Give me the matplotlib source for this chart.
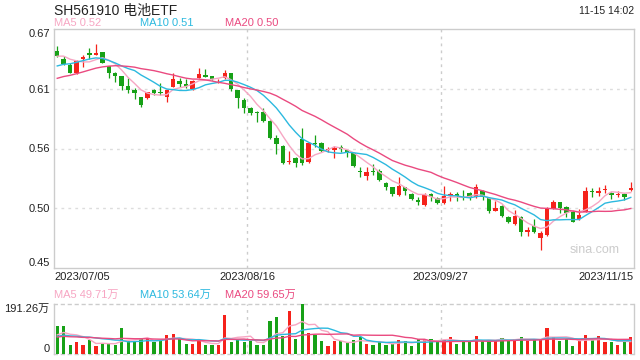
import numpy as np
import pandas as pd
from matplotlib import pyplot as plt

# daily candles, 2023/07/05 .. 2023/11/15 (90 trading days)
open_ = [0.6498, 0.6421, 0.6369, 0.6292, 0.6421, 0.6482, 0.6464, 0.6486, 0.6360, 0.6298,
         0.6268, 0.6176, 0.6139, 0.6072, 0.6065, 0.6139, 0.6124, 0.6078, 0.6169, 0.6224,
         0.6191, 0.6145, 0.6248, 0.6277, 0.6264, 0.6218, 0.6246, 0.6292, 0.6139, 0.6047,
         0.5976, 0.5933, 0.5933, 0.5857, 0.5700, 0.5624, 0.5476, 0.5516, 0.5688, 0.5479,
         0.5654, 0.5654, 0.5587, 0.5584, 0.5615, 0.5587, 0.5556, 0.5391, 0.5350, 0.5397,
         0.5394, 0.5286, 0.5249, 0.5173, 0.5243, 0.5182, 0.5127, 0.5081, 0.5182, 0.5148,
         0.5096, 0.5170, 0.5182, 0.5158, 0.5188, 0.5152, 0.5213, 0.5142, 0.5028, 0.5072,
         0.4968, 0.4906, 0.4974, 0.4835, 0.4887, 0.4774, 0.4805, 0.5044, 0.5106, 0.5059,
         0.5019, 0.4952, 0.5019, 0.5210, 0.5194, 0.5216, 0.5191, 0.5173, 0.5185, 0.5222]
close = [0.6452, 0.6381, 0.6298, 0.6406, 0.6445, 0.6458, 0.6482, 0.6390, 0.6292, 0.6270,
         0.6178, 0.6139, 0.6115, 0.5998, 0.6118, 0.6115, 0.6109, 0.6139, 0.6237, 0.6194,
         0.6176, 0.6224, 0.6288, 0.6261, 0.6240, 0.6222, 0.6292, 0.6145, 0.6062, 0.5970,
         0.5930, 0.5924, 0.5851, 0.5700, 0.5639, 0.5464, 0.5482, 0.5470, 0.5464, 0.5654,
         0.5642, 0.5581, 0.5596, 0.5608, 0.5595, 0.5562, 0.5440, 0.5383, 0.5387, 0.5388,
         0.5311, 0.5243, 0.5182, 0.5256, 0.5213, 0.5136, 0.5103, 0.5173, 0.5158, 0.5096,
         0.5164, 0.5182, 0.5164, 0.5142, 0.5142, 0.5249, 0.5152, 0.5028, 0.5053, 0.4980,
         0.4928, 0.4980, 0.4835, 0.4848, 0.4835, 0.4820, 0.5050, 0.5106, 0.5050, 0.5004,
         0.4928, 0.4989, 0.5210, 0.5197, 0.5207, 0.5225, 0.5170, 0.5185, 0.5155, 0.5234]
high = [0.6544, 0.6452, 0.6390, 0.6415, 0.6461, 0.6522, 0.6562, 0.6490, 0.6362, 0.6307,
        0.6270, 0.6246, 0.6154, 0.6075, 0.6124, 0.6145, 0.6200, 0.6140, 0.6298, 0.6246,
        0.6237, 0.6230, 0.6338, 0.6329, 0.6270, 0.6236, 0.6323, 0.6295, 0.6140, 0.6062,
        0.5985, 0.5942, 0.5973, 0.5860, 0.5724, 0.5633, 0.5580, 0.5518, 0.5786, 0.5663,
        0.5724, 0.5656, 0.5611, 0.5620, 0.5630, 0.5590, 0.5558, 0.5427, 0.5427, 0.5457,
        0.5409, 0.5295, 0.5250, 0.5335, 0.5249, 0.5194, 0.5152, 0.5188, 0.5188, 0.5158,
        0.5256, 0.5203, 0.5203, 0.5219, 0.5197, 0.5274, 0.5219, 0.5157, 0.5120, 0.5081,
        0.4980, 0.5034, 0.4980, 0.4881, 0.4949, 0.4836, 0.5059, 0.5128, 0.5112, 0.5071,
        0.5034, 0.5041, 0.5250, 0.5234, 0.5250, 0.5265, 0.5200, 0.5210, 0.5191, 0.5293]
low = [0.6445, 0.6369, 0.6292, 0.6290, 0.6353, 0.6421, 0.6461, 0.6384, 0.6246, 0.6215,
       0.6139, 0.6115, 0.6052, 0.5985, 0.6059, 0.6094, 0.6088, 0.6032, 0.6164, 0.6167,
       0.6155, 0.6139, 0.6245, 0.6255, 0.6233, 0.6199, 0.6237, 0.6133, 0.5970, 0.5924,
       0.5909, 0.5848, 0.5848, 0.5691, 0.5553, 0.5458, 0.5455, 0.5427, 0.5449, 0.5464,
       0.5611, 0.5572, 0.5572, 0.5510, 0.5570, 0.5525, 0.5433, 0.5335, 0.5311, 0.5356,
       0.5305, 0.5219, 0.5164, 0.5167, 0.5173, 0.5127, 0.5078, 0.5075, 0.5115, 0.5090,
       0.5090, 0.5115, 0.5115, 0.5124, 0.5124, 0.5143, 0.5127, 0.5004, 0.5025, 0.4974,
       0.4913, 0.4897, 0.4795, 0.4795, 0.4826, 0.4667, 0.4790, 0.5040, 0.5004, 0.4974,
       0.4919, 0.4943, 0.5013, 0.5157, 0.5164, 0.5191, 0.5139, 0.5155, 0.5124, 0.5213]
# volume, in 万
volume = [107.7, 107.7, 35.5, 46.9, 35.5, 54.5, 29.1, 39.3, 39.3, 35.5,
          100.0, 48.1, 48.1, 57.0, 60.8, 44.3, 48.1, 73.5, 76.0, 57.0,
          39.3, 39.3, 54.5, 32.9, 35.5, 35.5, 149.5, 44.3, 54.5, 44.3,
          48.1, 35.5, 35.5, 127.9, 140.6, 67.1, 164.7, 58.3, 191.26, 79.8,
          73.5, 50.7, 31.7, 48.1, 48.1, 41.8, 54.5, 63.3, 39.3, 35.5,
          44.3, 35.5, 39.3, 54.5, 50.7, 31.7, 57.0, 57.0, 58.3, 48.1,
          51.9, 63.3, 39.3, 48.1, 44.3, 69.7, 51.9, 51.9, 48.1, 62.0,
          54.5, 57.0, 65.9, 48.1, 54.5, 54.5, 101.3, 63.3, 50.7, 58.3,
          31.7, 50.7, 73.5, 51.9, 67.1, 44.3, 44.3, 35.5, 50.7, 63.3]
# closes / volumes of the 19 days before the window, only feed the moving averages
prior_close = [0.605, 0.608, 0.610, 0.612, 0.611, 0.614, 0.616, 0.615, 0.619, 0.622,
               0.623, 0.625, 0.627, 0.629, 0.631, 0.638, 0.644, 0.648, 0.6498]
prior_volume = [58, 66, 60, 70, 55, 64, 68, 59, 62, 68,
                55, 66, 58, 64, 62, 60, 70, 59, 68]

date_ticks = [-0.5, 29.5, 59.5, 89.5]
date_labels = ["2023/07/05", "2023/08/16", "2023/09/27", "2023/11/15"]

RED = '#f5221b'
GREEN = '#17a117'
MA_COLORS = {5: '#f7a6c3', 10: '#2cb9df', 20: '#ea4a80'}
CJK = ['Liberation Sans', 'Noto Sans CJK SC', 'DejaVu Sans']
plt.rcParams['font.family'] = CJK

n = len(close)
x = np.arange(n)
o = np.array(open_)
c = np.array(close)
up = c >= o
cols = np.where(up, RED, GREEN)

fig = plt.figure(figsize=(6.4, 3.6), dpi=100)
W, H = 640, 360
ax = fig.add_axes([54 / W, 1 - 268 / H, 580 / W, 239 / H])
axv = fig.add_axes([54 / W, 1 - 354 / H, 580 / W, 50 / H])

# candles
ax.vlines(x, low, high, colors=cols, linewidth=0.9, zorder=3)
body = np.maximum(np.abs(c - o), 0.0007)
ax.bar(x, body, bottom=np.minimum(o, c), width=0.7, color=cols, linewidth=0, zorder=4)

closes_all = pd.Series(prior_close + close)
vol_all = pd.Series(prior_volume + volume)
k = len(prior_close)
for w, col in MA_COLORS.items():
    ax.plot(x, closes_all.rolling(w).mean().values[k:], color=col, linewidth=1.0, zorder=5)
    axv.plot(x, vol_all.rolling(w).mean().values[k:], color=col, linewidth=1.0, zorder=5)

axv.bar(x, volume, width=0.5, color=cols, linewidth=0, zorder=3)

# price axis
ax.set_xlim(-0.5, n - 0.5)
ax.set_ylim(0.45, 0.67)
yt = [0.45, 0.505, 0.56, 0.615, 0.67]
ax.set_yticks(yt)
ax.set_yticklabels(["0.45", "0.50", "0.56", "0.61", "0.67"])
lbls = ax.get_yticklabels()
lbls[0].set_va('bottom')
lbls[-1].set_va('top')
for v in yt[1:-1]:
    ax.axhline(v, color='#dddddd', linestyle=(0, (2, 3)), linewidth=1.0, zorder=1)
ax.set_xticks(date_ticks)
ax.set_xticklabels(date_labels)
xl = ax.get_xticklabels()
xl[0].set_ha('left')
xl[-1].set_ha('right')
ax.tick_params(axis='both', length=0, labelsize=8, colors='#222222', pad=3)
for t in date_ticks[1:3]:
    ax.axvline(t, color='#cccccc', linestyle=(0, (2, 3)), linewidth=1.0, zorder=1)
    axv.axvline(t, color='#cccccc', linestyle=(0, (2, 3)), linewidth=1.0, zorder=1)
for s in ax.spines.values():
    s.set_color('#cccccc')
    s.set_linewidth(1.0)

# volume axis
axv.set_xlim(-0.5, n - 0.5)
axv.set_ylim(0, max(volume))
axv.set_xticks([])
axv.set_yticks([0, max(volume)])
axv.set_yticklabels(["0", "191.26万"])
vl = axv.get_yticklabels()
vl[0].set_va('bottom')
vl[1].set_va('top')
axv.tick_params(axis='y', length=0, labelsize=8, colors='#222222', pad=3)
for name, s in axv.spines.items():
    s.set_color('#cccccc')
    s.set_linewidth(1.0)
    if name in ('top', 'bottom'):
        s.set_linestyle((0, (2, 3)))

# header texts
fig.text(54 / W, 1 - 11 / H, "SH561910 电池ETF", fontsize=10, color='#222222', va='center', ha='left')
fig.text(634 / W, 1 - 11 / H, "11-15 14:02", fontsize=7.5, color='#222222', va='center', ha='right')
for xp, txt, w in [(54, "MA5 0.52", 5), (140, "MA10 0.51", 10), (225, "MA20 0.50", 20)]:
    fig.text(xp / W, 1 - 23 / H, txt, fontsize=8, color=MA_COLORS[w], va='center', ha='left')
for xp, txt, w in [(54, "MA5 49.71万", 5), (140, "MA10 53.64万", 10), (225, "MA20 59.65万", 20)]:
    fig.text(xp / W, 1 - 295 / H, txt, fontsize=8, color=MA_COLORS[w], va='center', ha='left')
fig.text(620 / W, 1 - 250 / H, "sina.com", fontsize=9, color='#cccccc', va='center', ha='right')

fig.savefig("out.png", dpi=100)
